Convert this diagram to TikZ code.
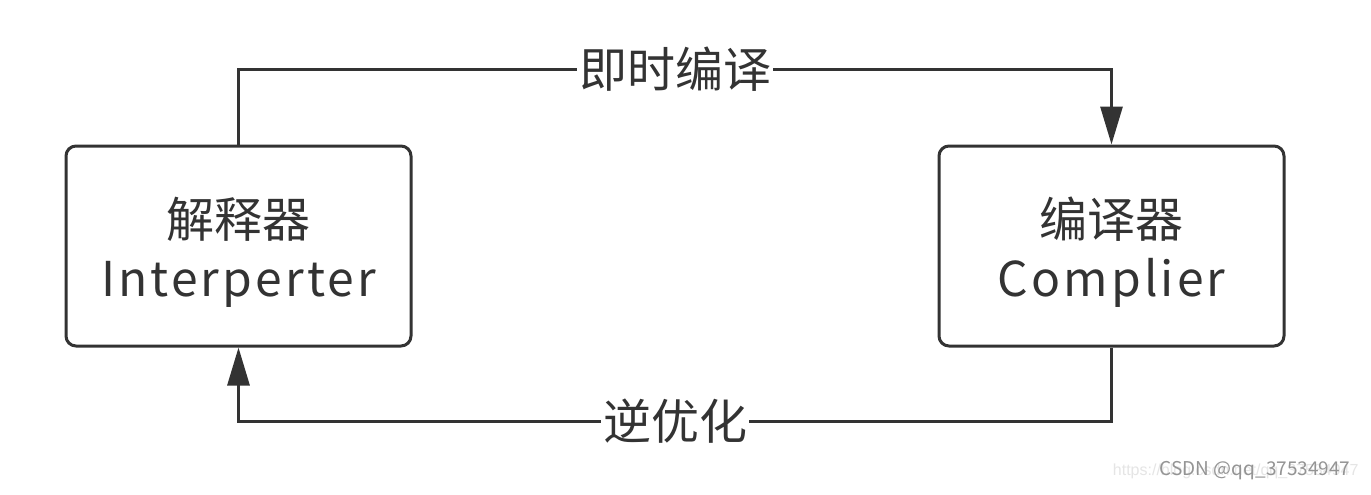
\documentclass[tikz,border=0pt]{standalone}
\usepackage{fontspec}
\setmainfont{Noto Sans CJK SC}
\newfontfamily\latinwide[LetterSpace=6.5]{Noto Sans CJK SC}
\newfontfamily\wmfont{Liberation Sans}
\usetikzlibrary{arrows.meta}
\definecolor{ink}{HTML}{333333}
\tikzset{
  x=1pt, y=-1pt,
  box/.style={draw=ink, line width=3pt, rounded corners=10pt, minimum width=345pt, minimum height=200pt, align=center, font=\fontsize{48}{59}\selectfont, text=ink, inner sep=0pt},
  conn/.style={draw=ink, line width=3pt},
  tip/.style={-{Triangle[width=22pt,length=38pt]}},
  elabel/.style={fill=white, font=\fontsize{48}{58}\selectfont, text=ink, inner xsep=2pt, inner ysep=0pt}
}
\begin{document}
\begin{tikzpicture}
\useasboundingbox (0,0) rectangle (1371,495);
\fill[white] (0,0) rectangle (1371,495);
\node[box] (interp) at (238.5,246) {\rule{0pt}{53pt}解释器\\{\latinwide Interperter}};
\node[box] (comp) at (1111.5,246) {\rule{0pt}{53pt}编译器\\{\latinwide Complier}};
\draw[conn,tip] (interp.north) -- ++(0,-75) -| (comp.north) node[elabel, pos=0.25] (jit) {即时编译};
\draw[conn,tip] (comp.south) -- ++(0,74) -| (interp.south) node[elabel, pos=0.25] (deopt) {逆优化};
\node[font=\wmfont\fontsize{16}{18}\selectfont, text=black!10, anchor=east] (url) at (1362,471) {https://blog.csdn.net/qq\_37534947};
\node[font=\fontsize{19}{22}\selectfont, text=black!42, anchor=east] (wm) at (1354,471) {CSDN @qq\_37534947};
\end{tikzpicture}
\end{document}
